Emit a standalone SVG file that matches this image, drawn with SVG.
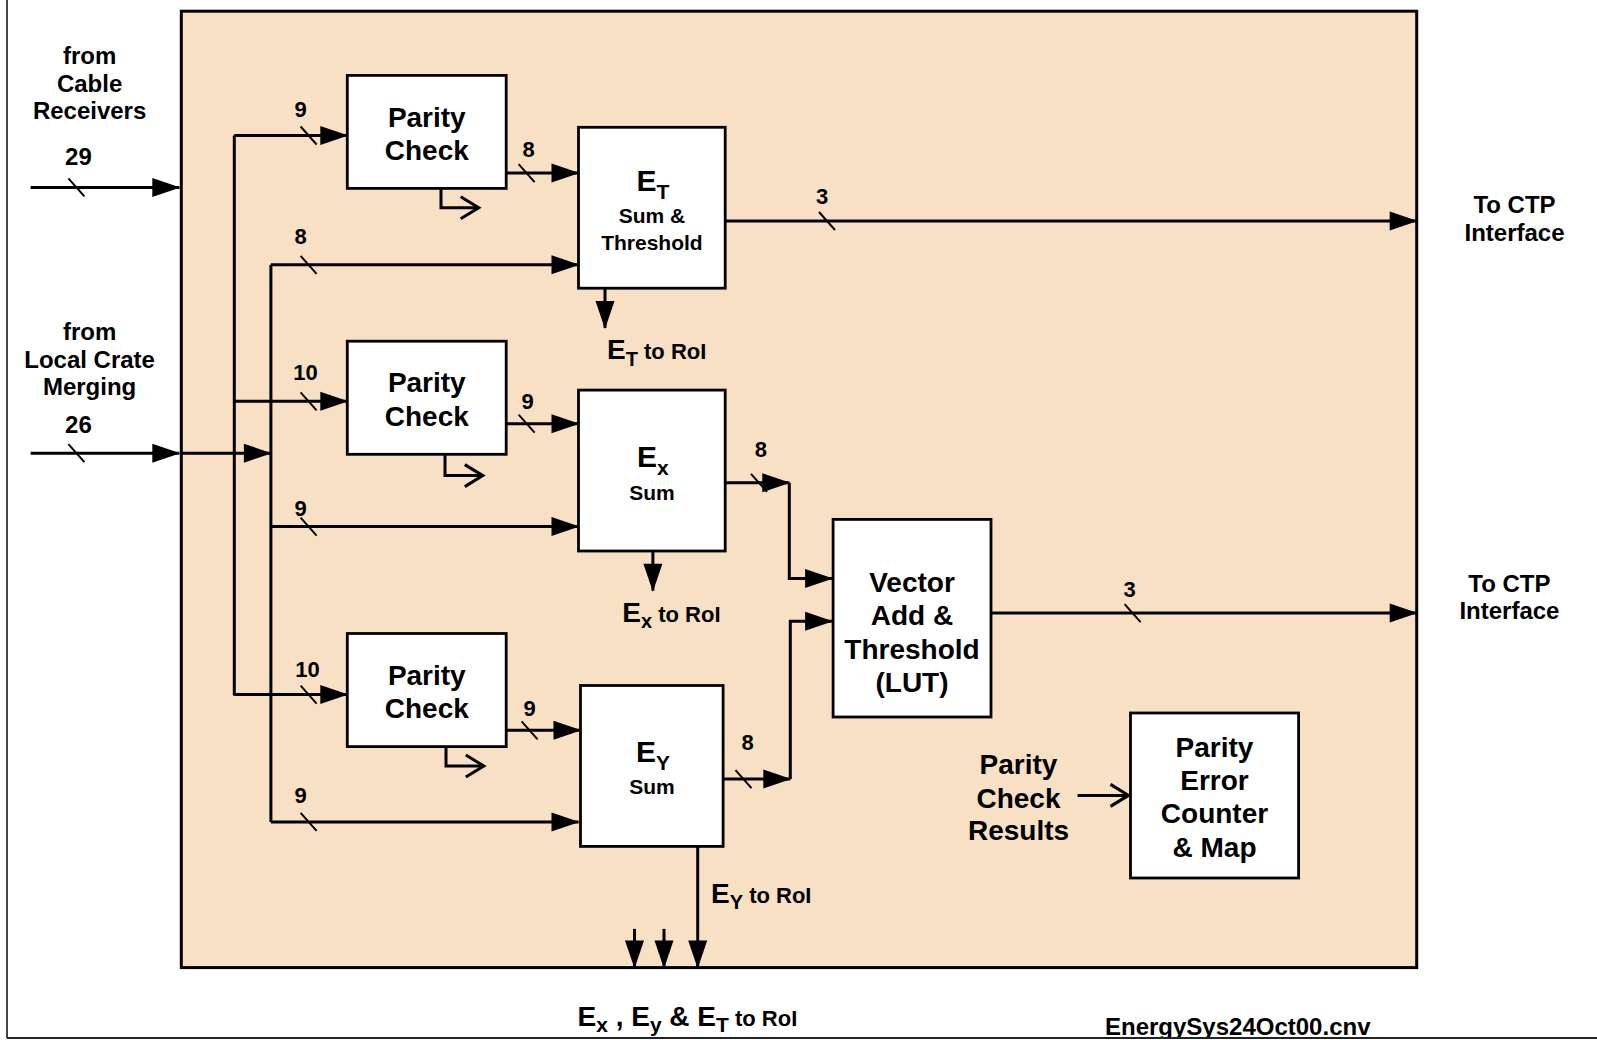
<svg xmlns="http://www.w3.org/2000/svg" width="1597" height="1040" viewBox="0 0 1597 1040">
<style>
text{font-family:"Liberation Sans",Arial,Helvetica,sans-serif;font-weight:bold;fill:#000}
.box{fill:#fff;stroke:#000;stroke-width:2.8}
.ln{fill:none;stroke:#000;stroke-width:3}
.sl{fill:none;stroke:#000;stroke-width:2}
.lbl{font-size:24px}
.num{font-size:22px}
.big{font-size:28px}
.sm{font-size:21px}
.a{marker-end:url(#arr)}
.o{marker-end:url(#open)}
</style>
<defs>
<marker id="arr" markerUnits="userSpaceOnUse" markerWidth="28" markerHeight="19" refX="27" refY="9.5" orient="auto" overflow="visible">
<path d="M0,0 L28,9.5 L0,19 z" fill="#000"/>
</marker>
<marker id="open" markerUnits="userSpaceOnUse" markerWidth="20" markerHeight="22" refX="18" refY="11" orient="auto" overflow="visible">
<path d="M0,0 L18,11 L0,22" fill="none" stroke="#000" stroke-width="3"/>
</marker>
<clipPath id="cut"><rect x="0" y="0" width="1597" height="1037"/></clipPath>
</defs>

<rect width="1597" height="1040" fill="#fff"/>
<g id="frame">
<line x1="7" y1="0" x2="7" y2="1038" stroke="#444" stroke-width="2"/>
<line x1="7" y1="1038" x2="1597" y2="1038" stroke="#222" stroke-width="2"/>
</g>

<g id="board">
<rect x="181.3" y="11.2" width="1235.4" height="956.4" fill="#F7E0C3" stroke="#000" stroke-width="3"/>
</g>

<g id="inputs">
<text class="lbl" text-anchor="middle" x="89.6" y="64.2">from</text>
<text class="lbl" text-anchor="middle" x="89.6" y="91.7">Cable</text>
<text class="lbl" text-anchor="middle" x="89.6" y="119.2">Receivers</text>
<text class="lbl" text-anchor="middle" x="78.4" y="165">29</text>
<text class="lbl" text-anchor="middle" x="89.6" y="340.2">from</text>
<text class="lbl" text-anchor="middle" x="89.6" y="367.7">Local Crate</text>
<text class="lbl" text-anchor="middle" x="89.6" y="395.2">Merging</text>
<text class="lbl" text-anchor="middle" x="78.4" y="433">26</text>
</g>

<g id="connectors">
<!-- inputs -->
<path class="ln a" d="M30.6,187.4 H179.3"/>
<path class="ln a" d="M30.6,453.2 H179.3"/>
<path class="ln a" d="M181.3,453.2 H270.9"/>
<!-- buses -->
<path class="ln" d="M234.3,135.5 V695.6"/>
<path class="ln" d="M270.9,264.8 V821.9"/>
<!-- branches -->
<path class="ln a" d="M234.3,135.5 H347.3"/>
<path class="ln a" d="M234.3,401.3 H347.3"/>
<path class="ln a" d="M234.3,694.6 H347.3"/>
<path class="ln a" d="M270.9,264.8 H578.5"/>
<path class="ln a" d="M270.9,526.6 H578.5"/>
<path class="ln a" d="M270.9,821.9 H578.5"/>
<!-- parity outputs -->
<path class="ln a" d="M506.2,173.1 H578.5"/>
<path class="ln a" d="M506.2,423.7 H578.5"/>
<path class="ln a" d="M506.2,730.3 H580.5"/>
<!-- parity result bent arrows -->
<path class="ln o" d="M441,188.4 V207.8 H478.7"/>
<path class="ln o" d="M445,454.3 V475.6 H482.8"/>
<path class="ln o" d="M446,746.6 V766 H483.8"/>
<!-- ET -->
<path class="ln a" d="M725.2,221 H1416.7"/>
<path class="ln a" d="M605,288.2 V328"/>
<!-- Ex -->
<path class="ln a" d="M725.2,482.8 H789.3"/>
<path class="ln a" d="M789.3,482.8 V578.5 H832.1"/>
<path class="ln a" d="M652.9,551 V590.7"/>
<!-- Ey -->
<path class="ln a" d="M723.1,779.1 H790.3"/>
<path class="ln a" d="M790.3,779.1 V621.3 H832.1"/>
<path class="ln a" d="M697.7,846.4 V967.6"/>
<path class="ln a" d="M634.5,928.9 V967.6"/>
<path class="ln a" d="M664,928.9 V967.6"/>
<!-- vector out -->
<path class="ln a" d="M991,613.1 H1416.7"/>
<!-- parity results -->
<path class="ln o" d="M1077.6,795.4 H1128.5"/>
<!-- bus-width slashes -->
<path class="sl" d="M68.4,178.4 L84.4,196.4 M68.4,444.2 L84.4,462.2
 M300.6,126.5 L316.6,144.5 M300.6,392.3 L316.6,410.3 M300.6,685.6 L316.6,703.6
 M300.6,255.8 L316.6,273.8 M300.6,517.6 L316.6,535.6 M300.6,812.9 L316.6,830.9
 M518.6,164.1 L534.6,182.1 M518.6,414.7 L534.6,432.7 M521.6,721.3 L537.6,739.3
 M819,212 L835,230 M751,473.8 L767,491.8 M735.5,770.1 L751.5,788.1 M1124.6,604.1 L1140.6,622.1"/>
</g>

<g id="labels">
<text class="num" text-anchor="middle" x="300.5" y="117.1">9</text>
<text class="num" text-anchor="middle" x="528.6" y="156.8">8</text>
<text class="num" text-anchor="middle" x="300.5" y="244.4">8</text>
<text class="num" text-anchor="middle" x="822" y="203.7">3</text>
<text class="num" text-anchor="middle" x="305.6" y="379.9">10</text>
<text class="num" text-anchor="middle" x="527.6" y="409.4">9</text>
<text class="num" text-anchor="middle" x="760.8" y="457.3">8</text>
<text class="num" text-anchor="middle" x="300.5" y="516.4">9</text>
<text class="num" text-anchor="middle" x="1129.5" y="596.8">3</text>
<text class="num" text-anchor="middle" x="307.6" y="677.3">10</text>
<text class="num" text-anchor="middle" x="529.6" y="716">9</text>
<text class="num" text-anchor="middle" x="747.6" y="749.6">8</text>
<text class="num" text-anchor="middle" x="300.5" y="802.6">9</text>

<text x="607" y="358.5"><tspan font-size="28">E</tspan><tspan font-size="20" dy="7">T</tspan><tspan font-size="22" dy="-7"> to RoI</tspan></text>
<text x="622.3" y="622.3"><tspan font-size="28">E</tspan><tspan font-size="20" dy="6">x</tspan><tspan font-size="22" dy="-6"> to RoI</tspan></text>
<text x="711" y="903.4"><tspan font-size="28">E</tspan><tspan font-size="20" dy="6">Y</tspan><tspan font-size="22" dy="-6"> to RoI</tspan></text>
<text x="577.5" y="1025.6"><tspan font-size="28">E</tspan><tspan font-size="21" dy="6">x</tspan><tspan font-size="28" dy="-6"> , E</tspan><tspan font-size="21" dy="6">y</tspan><tspan font-size="28" dy="-6"> &amp; E</tspan><tspan font-size="21" dy="6">T</tspan><tspan font-size="22" dy="-6"> to RoI</tspan></text>

<text class="lbl" text-anchor="middle" x="1514.5" y="212.9">To CTP</text>
<text class="lbl" text-anchor="middle" x="1514.5" y="241.4">Interface</text>
<text class="lbl" text-anchor="middle" x="1509.4" y="591.7">To CTP</text>
<text class="lbl" text-anchor="middle" x="1509.4" y="619.2">Interface</text>

<text class="big" text-anchor="middle" x="1018.5" y="774">Parity</text>
<text class="big" text-anchor="middle" x="1018.5" y="807.7">Check</text>
<text class="big" text-anchor="middle" x="1018.5" y="840.3">Results</text>

<text class="lbl" x="1105" y="1035" clip-path="url(#cut)">EnergySys24Oct00.cnv</text>
</g>

<g id="parity1">
<rect class="box" x="347.3" y="75.4" width="158.9" height="113"/>
<text class="big" text-anchor="middle" x="426.8" y="126.5">Parity</text>
<text class="big" text-anchor="middle" x="426.8" y="160">Check</text>
</g>
<g id="parity2">
<rect class="box" x="347.3" y="341.2" width="158.9" height="113.1"/>
<text class="big" text-anchor="middle" x="426.8" y="392.3">Parity</text>
<text class="big" text-anchor="middle" x="426.8" y="425.8">Check</text>
</g>
<g id="parity3">
<rect class="box" x="347.3" y="633.5" width="158.9" height="113.1"/>
<text class="big" text-anchor="middle" x="426.8" y="684.6">Parity</text>
<text class="big" text-anchor="middle" x="426.8" y="718.1">Check</text>
</g>

<g id="et-sum">
<rect class="box" x="578.5" y="127.3" width="146.7" height="160.9"/>
<text text-anchor="middle" x="652.9" y="190.5"><tspan font-size="30">E</tspan><tspan font-size="21" dy="8">T</tspan></text>
<text class="sm" text-anchor="middle" x="651.9" y="223">Sum &amp;</text>
<text class="sm" text-anchor="middle" x="651.9" y="249.5">Threshold</text>
</g>
<g id="ex-sum">
<rect class="box" x="578.5" y="390.1" width="146.7" height="160.9"/>
<text text-anchor="middle" x="652.9" y="466.5"><tspan font-size="30">E</tspan><tspan font-size="21" dy="8">x</tspan></text>
<text class="sm" text-anchor="middle" x="651.9" y="500">Sum</text>
</g>
<g id="ey-sum">
<rect class="box" x="580.5" y="685.5" width="142.6" height="160.9"/>
<text text-anchor="middle" x="652.9" y="761.8"><tspan font-size="30">E</tspan><tspan font-size="21" dy="8">Y</tspan></text>
<text class="sm" text-anchor="middle" x="651.9" y="794.4">Sum</text>
</g>

<g id="vector-add">
<rect class="box" x="833.1" y="519.4" width="157.9" height="197.6"/>
<text class="big" text-anchor="middle" x="912" y="591.7">Vector</text>
<text class="big" text-anchor="middle" x="912" y="625.4">Add &amp;</text>
<text class="big" text-anchor="middle" x="912" y="659">Threshold</text>
<text class="big" text-anchor="middle" x="912" y="691.6">(LUT)</text>
</g>

<g id="parity-error">
<rect class="box" x="1130.5" y="713" width="168.1" height="165"/>
<text class="big" text-anchor="middle" x="1214.5" y="756.8">Parity</text>
<text class="big" text-anchor="middle" x="1214.5" y="790.4">Error</text>
<text class="big" text-anchor="middle" x="1214.5" y="823">Counter</text>
<text class="big" text-anchor="middle" x="1214.5" y="856.5">&amp; Map</text>
</g>
</svg>
